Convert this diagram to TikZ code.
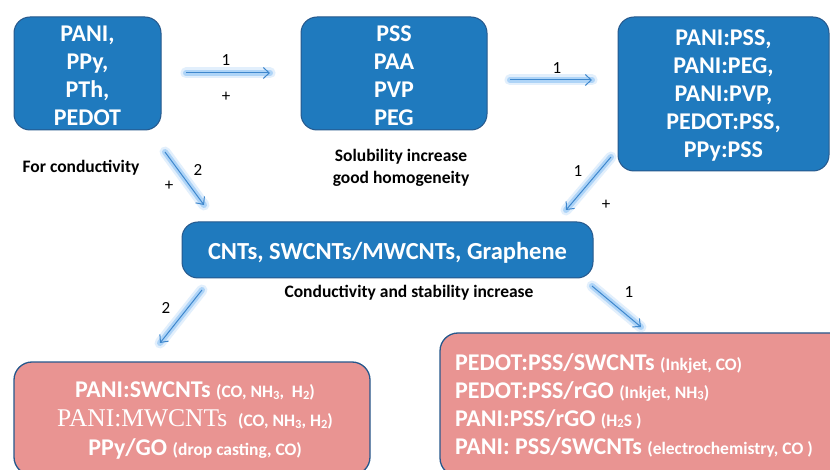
\documentclass[tikz,border=0pt]{standalone}
\usepackage{fontspec}
\setmainfont{Carlito}
\newfontfamily\timesfam{Liberation Serif}
\usetikzlibrary{arrows.meta}

\definecolor{boxblue}{RGB}{31,122,190}
\definecolor{edgeblue}{RGB}{38,88,140}
\definecolor{boxpink}{RGB}{233,148,146}
\definecolor{arrowblue}{RGB}{62,135,205}
\definecolor{glowblue}{RGB}{140,195,245}

\newcommand{\sbt}[1]{\raisebox{-1.5pt}{\fontsize{12.5}{12}\selectfont #1}}
\newcommand{\mainpart}[1]{{\fontsize{24}{24}\selectfont\bfseries #1}}
\newcommand{\detailpart}[1]{{\fontsize{17.5}{17}\selectfont\bfseries #1}}

\tikzset{
  bluebox/.style={draw=edgeblue, line width=1pt, fill=boxblue, rounded corners=16pt, inner sep=0pt},
  bluetext/.style={text=white, font=\fontsize{24}{28}\selectfont\bfseries, align=center, inner sep=0pt},
  pinkbox/.style={draw=edgeblue, line width=1.3pt, fill=boxpink, rounded corners=18pt, inner sep=0pt},
  boxtext/.style={text=white, inner sep=0pt},
  note/.style={font=\fontsize{17.5}{22}\selectfont\bfseries, align=center, text=black},
  num/.style={font=\fontsize{17}{18}\selectfont, text=black, inner sep=0pt},
  glow/.style={
    preaction={draw=glowblue, -, line width=11pt, opacity=0.25, line cap=round},
    preaction={draw=glowblue, -, line width=6pt, opacity=0.6, line cap=round},
    draw=arrowblue, line width=1pt, -{Straight Barb[length=6pt,width=11pt]}}
}

\begin{document}
\begin{tikzpicture}[x=1pt,y=-1pt]
\useasboundingbox (0,0) rectangle (830,470);
\clip (0,0) rectangle (830,470);
\fill[white] (0,0) rectangle (830,470);

% polymer boxes, top row
\node[bluebox, minimum width=147pt, minimum height=113pt] (poly) at (87.5,73.5) {};
\node[bluetext] (polyT) at (87.5,76) {PANI,\\PPy,\\PTh,\\PEDOT};
\node[bluebox, minimum width=186pt, minimum height=113pt] (dop) at (394,73.5) {};
\node[bluetext] (dopT) at (394,76) {PSS\\PAA\\PVP\\PEG};
\node[bluebox, minimum width=211pt, minimum height=154pt] (blend) at (723.5,94) {};
\node[bluetext] (blendT) at (723.5,96)
  {PANI:PSS,\\PANI:PEG,\\PANI:PVP,\\PEDOT:PSS,\\PPy:PSS};

% carbon fillers
\node[bluebox, minimum width=411pt, minimum height=56pt] (carbon) at (387.5,250) {};
\node[bluetext, font=\fontsize{24.5}{28}\selectfont\bfseries] (carbonT) at (387.5,252.5)
  {CNTs, SWCNTs/MWCNTs, Graphene};

% composite boxes, bottom row
\node[pinkbox, minimum width=356pt, minimum height=113pt] (compL) at (192,418.5) {};
\node[boxtext, align=center, font=\fontsize{24}{29}\selectfont] (compLtext) at (195,421)
  {\mainpart{PANI:SWCNTs} \detailpart{(CO, NH\sbt{3},~~H\sbt{2})}\\
   {\timesfam\fontsize{25.5}{27}\selectfont PANI:MWCNTs}~~\detailpart{(CO, NH\sbt{3}, H\sbt{2})}\\
   \mainpart{PPy/GO} \detailpart{(drop casting, CO)}};
\node[pinkbox, minimum width=410pt, minimum height=143pt] (compR) at (645,404.5) {};
\node[boxtext, align=left, anchor=west, font=\fontsize{24}{28}\selectfont] (compRtext) at (455,405)
  {\mainpart{PEDOT:PSS/SWCNTs} \detailpart{(Inkjet, CO)}\\
   \mainpart{PEDOT:PSS/rGO} \detailpart{(Inkjet, NH\sbt{3})}\\
   \mainpart{PANI:PSS/rGO} \detailpart{(H\sbt{2}S )}\\
   \mainpart{PANI: PSS/SWCNTs} \detailpart{(electrochemistry, CO )}};

% captions
\node[note] (cond) at (81,168) {For conductivity};
\node[note] (solu) at (401,168) {Solubility increase\\good homogeneity};
\node[note] (stab) at (409,293) {Conductivity and stability increase};

% arrow end points
\coordinate (a1s) at (186,73);  \coordinate (a1e) at (270,73);
\coordinate (a2s) at (510,80);  \coordinate (a2e) at (592,80);
\coordinate (a3s) at (165,152); \coordinate (a3e) at (204,205);
\coordinate (a4s) at (611,157); \coordinate (a4e) at (566,210);
\coordinate (a5s) at (202,290); \coordinate (a5e) at (160,343);
\coordinate (a6s) at (592,286); \coordinate (a6e) at (641,327);

\draw[glow] (a1s) -- (a1e);
\draw[glow] (a2s) -- (a2e);
\draw[glow] (a3s) -- (a3e);
\draw[glow] (a4s) -- (a4e);
\draw[glow] (a5s) -- (a5e);
\draw[glow] (a6s) -- (a6e);

% route numbers and plus signs
\node[num] (n1) at (226,60) {1};
\node[num] (p1) at (226,97) {+};
\node[num] (n2) at (557,68) {1};
\node[num] (n3) at (198,170) {2};
\node[num] (p3) at (169,186) {+};
\node[num] (n4) at (578,171) {1};
\node[num] (p4) at (606,205) {+};
\node[num] (n5) at (166,308) {2};
\node[num] (n6) at (629,292) {1};
\end{tikzpicture}
\end{document}
